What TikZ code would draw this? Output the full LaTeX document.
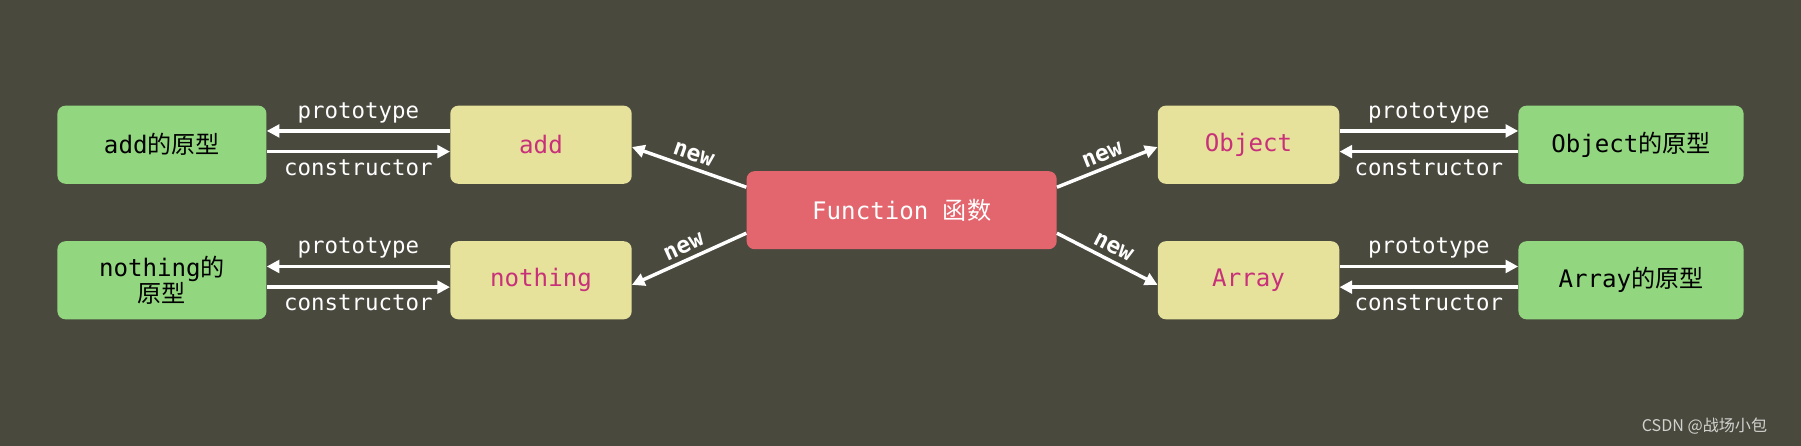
\documentclass[tikz,border=0pt]{standalone}
\usepackage{fontspec}
\setmonofont{DejaVu Sans Mono}
\newfontfamily\cjk{Noto Sans CJK SC}
\usetikzlibrary{arrows.meta}
\definecolor{bg}{HTML}{4A493E}
\definecolor{gbox}{HTML}{92D780}
\definecolor{ybox}{HTML}{E6E19B}
\definecolor{rbox}{HTML}{E3666E}
\definecolor{pk}{HTML}{C8307A}
\begin{document}
\begin{tikzpicture}[x=1pt,y=-1pt,
  box/.style={rounded corners=7pt,minimum width=#1,minimum height=68pt,inner sep=2pt,align=center,font=\fontsize{21}{24}\selectfont},
  gb/.style={box=#1,fill=gbox},
  yb/.style={box=158pt,fill=ybox},
  arr/.style={white,line width=3pt,-{Triangle[length=11pt,width=11pt]}},
  lab/.style={white,font=\ttfamily\fontsize{19.5}{22}\selectfont},
  nw/.style={white,font=\ttfamily\bfseries\fontsize{20}{22}\selectfont}]
\fill[bg] (0,0) rectangle (1568,388);
\useasboundingbox (0,0) rectangle (1568,388);
\node[gb=182pt] (ap) at (141,126) {\ttfamily add{\cjk 的原型}};
\node[yb] (a) at (471,126) {\ttfamily\color{pk}add};
\node[gb=182pt] (np) at (141,244) {\ttfamily nothing{\cjk 的}\\[-2pt]{\cjk 原型}};
\node[yb] (n) at (471,244) {\ttfamily\color{pk}nothing};
\node[box=270pt,fill=rbox,text=white] (f) at (785,183) {\ttfamily Function {\cjk 函数}};
\node[yb] (o) at (1087,126) {\ttfamily\color{pk}Object};
\node[gb=196pt] (op) at (1420,126) {\ttfamily Object{\cjk 的原型}};
\node[yb] (ar) at (1087,244) {\ttfamily\color{pk}Array};
\node[gb=196pt] (arp) at (1420,244) {\ttfamily Array{\cjk 的原型}};
\foreach \g/\y in {ap/a,np/n}{
  \draw[arr] ([yshift=12pt]\y.west) -- node[lab,above=2pt]{prototype} ([yshift=12pt]\g.east);
  \draw[arr] ([yshift=-6pt]\g.east) -- node[lab,below=2pt]{constructor} ([yshift=-6pt]\y.west);
}
\foreach \g/\y in {op/o,arp/ar}{
  \draw[arr] ([yshift=12pt]\y.east) -- node[lab,above=2pt]{prototype} ([yshift=12pt]\g.west);
  \draw[arr] ([yshift=-6pt]\g.west) -- node[lab,below=2pt]{constructor} ([yshift=-6pt]\y.east);
}
\draw[arr] ([yshift=20pt]f.west) -- node[nw,sloped,above=1pt]{new} ([yshift=-2pt]a.east);
\draw[arr] ([yshift=-20pt]f.west) -- node[nw,sloped,above=1pt]{new} ([yshift=-4pt]n.east);
\draw[arr] ([yshift=20pt]f.east) -- node[nw,sloped,above=1pt]{new} ([yshift=-2pt]o.west);
\draw[arr] ([yshift=-20pt]f.east) -- node[nw,sloped,above=1pt]{new} ([yshift=-4pt]ar.west);
\node[text=white!75!bg,font=\cjk\fontsize{14}{16}\selectfont,anchor=east] (wm) at (1542,371) {CSDN @战场小包};
\end{tikzpicture}
\end{document}
